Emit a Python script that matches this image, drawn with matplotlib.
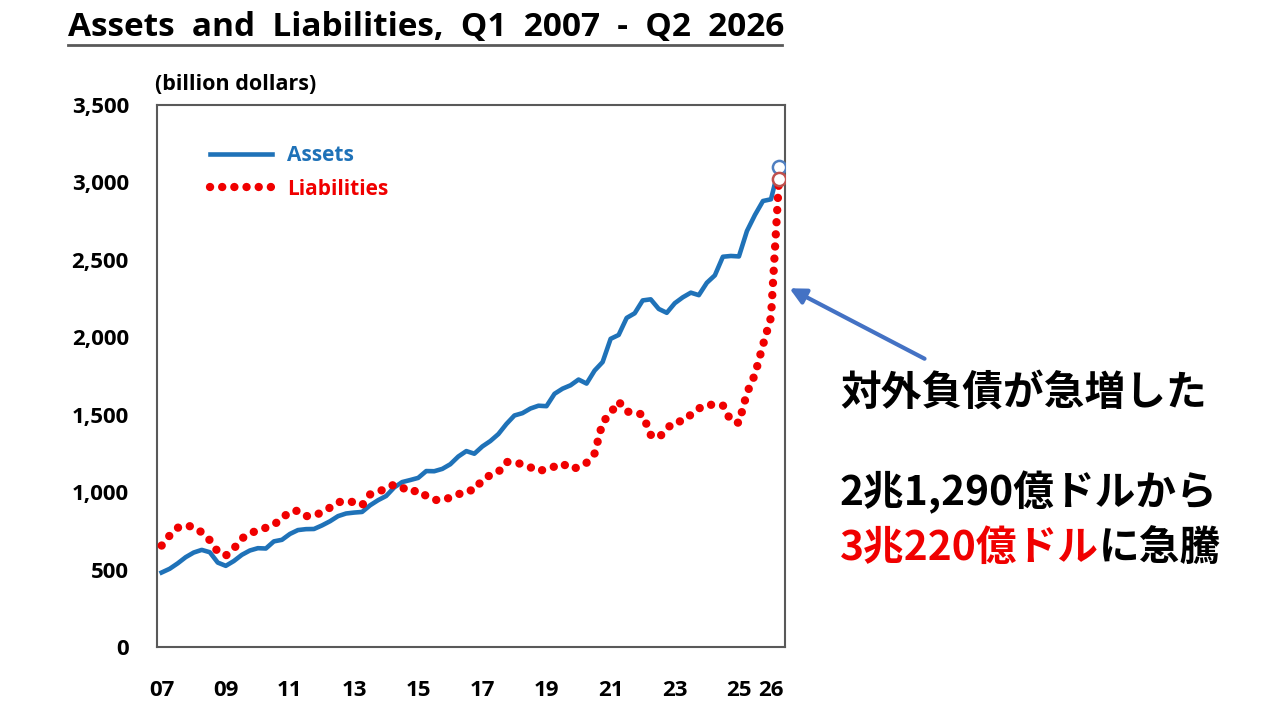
import matplotlib
matplotlib.use("Agg")
import matplotlib.pyplot as plt
from matplotlib.lines import Line2D

plt.rcParams['font.family'] = ['Open Sans', 'Noto Sans CJK JP', 'DejaVu Sans']

# ----- DATA (billion dollars, quarterly Q1 2007 .. Q2 2026) -----
assets = [481, 505, 540, 580, 610, 627, 612, 545, 524, 555,
          595, 623, 638, 636, 682, 692, 730, 755, 761, 762,
          785, 812, 845, 862, 868, 872, 915, 948, 975, 1030,
          1065, 1078, 1092, 1136, 1135, 1150, 1180, 1230, 1265, 1248,
          1295, 1330, 1375, 1440, 1495, 1510, 1540, 1558, 1555, 1635,
          1668, 1690, 1727, 1701, 1785, 1840, 1990, 2015, 2125, 2155,
          2238, 2245, 2183, 2158, 2220, 2258, 2288, 2272, 2352, 2400,
          2520, 2525, 2522, 2686, 2790, 2880, 2891, 3100]
liabilities = [655, 720, 770, 785, 775, 740, 690, 615, 590, 635,
               700, 735, 752, 770, 790, 830, 875, 880, 845, 848,
               870, 900, 935, 942, 935, 915, 985, 1005, 1020, 1050,
               1030, 1000, 1012, 975, 950, 948, 965, 985, 1011, 1011,
               1080, 1110, 1130, 1195, 1192, 1180, 1160, 1135, 1150, 1165,
               1185, 1150, 1160, 1190, 1250, 1450, 1511, 1585, 1520, 1515,
               1500, 1370, 1350, 1410, 1455, 1458, 1500, 1540, 1565, 1563,
               1560, 1460, 1447, 1640, 1760, 1950, 2129, 3022]
quarters = list(range(len(assets)))
tick_pos = [0, 8, 16, 24, 32, 40, 48, 56, 64, 72, 76]
tick_labels = ['07', '09', '11', '13', '15', '17', '19', '21', '23', '25', '26']
y_ticks = [0, 500, 1000, 1500, 2000, 2500, 3000, 3500]

BLUE = '#1f72b8'
RED = '#f00000'
SPINE = '#595959'
DOTS = (0, (0.01, 1.45))

fig = plt.figure(figsize=(12.8, 7.2), dpi=100)
ax = fig.add_axes([0.1224, 0.1014, 0.4909, 0.7528])

ax.plot(quarters, assets, color=BLUE, lw=3.3, solid_joinstyle='round', zorder=3)
ax.plot(quarters, liabilities, color=RED, lw=6, linestyle=DOTS,
        dash_capstyle='round', zorder=4)
# hollow circles on last point
ax.plot(quarters[-1], assets[-1], 'o', ms=9.5, mfc='white', mec='#4f7fc0', mew=1.8, zorder=5)
ax.plot(quarters[-1], liabilities[-1], 'o', ms=9.5, mfc='white', mec='#c0504d', mew=1.8, zorder=6)

ax.set_xlim(-0.62, 77.75)
ax.set_ylim(0, 3500)
ax.set_xticks(tick_pos)
ax.set_xticklabels(tick_labels)
ax.set_yticks(y_ticks)
ax.set_yticklabels([f'{v:,}' for v in y_ticks])
ax.tick_params(length=0, labelsize=16)
ax.tick_params(axis='y', pad=20)
ax.tick_params(axis='x', pad=24)
for lab in ax.get_xticklabels() + ax.get_yticklabels():
    lab.set_fontweight('bold')
for s in ax.spines.values():
    s.set_color(SPINE)
    s.set_linewidth(1.5)

handles = [Line2D([], [], color=BLUE, lw=3.3),
           Line2D([], [], color=RED, lw=6, linestyle=DOTS, dash_capstyle='round')]
leg = ax.legend(handles, ['Assets', 'Liabilities'], loc='upper left',
                bbox_to_anchor=(0.055, 0.961), frameon=False, handlelength=3.0,
                handletextpad=0.7, labelspacing=0.62, prop={'size': 15, 'weight': 'bold'})
leg.get_texts()[0].set_color(BLUE)
leg.get_texts()[1].set_color(RED)

# title + underline
fig.text(0.053, 0.962, 'Assets  and  Liabilities,  Q1  2007  -  Q2  2026',
         fontsize=24, fontweight='bold', va='center', ha='left')
fig.add_artist(Line2D([0.053, 0.611], [0.937, 0.937], color=SPINE, lw=2))
fig.text(0.121, 0.882, '(billion dollars)', fontsize=15.5, fontweight='bold', va='center')

# annotation
fig.add_artist(matplotlib.patches.FancyArrowPatch(
    (927 / 1280, 1 - 360 / 720), (787 / 1280, 1 - 287 / 720),
    transform=fig.transFigure, arrowstyle='-|>', mutation_scale=24,
    color='#4472c4', lw=3))
jp = ['Noto Sans CJK JP', 'DejaVu Sans']
fig.text(840 / 1280, 1 - 393 / 720, '対外負債が急増した', fontsize=29.3,
         family=jp, va='center', ha='left', fontweight='bold')
fig.text(840 / 1280, 1 - 493 / 720, '2兆1,290億ドルから', fontsize=29.3,
         family=jp, va='center', ha='left', fontweight='bold')
t = fig.text(840 / 1280, 1 - 548 / 720, '3兆220億ドル', fontsize=29.3,
             family=jp, va='center', ha='left', fontweight='bold', color=RED)
fig.canvas.draw()
bb = t.get_window_extent()
fig.text(bb.x1 / 1280, 1 - 548 / 720, 'に急騰', fontsize=29.3,
         family=jp, va='center', ha='left', fontweight='bold')

fig.savefig('out.png', dpi=100)
